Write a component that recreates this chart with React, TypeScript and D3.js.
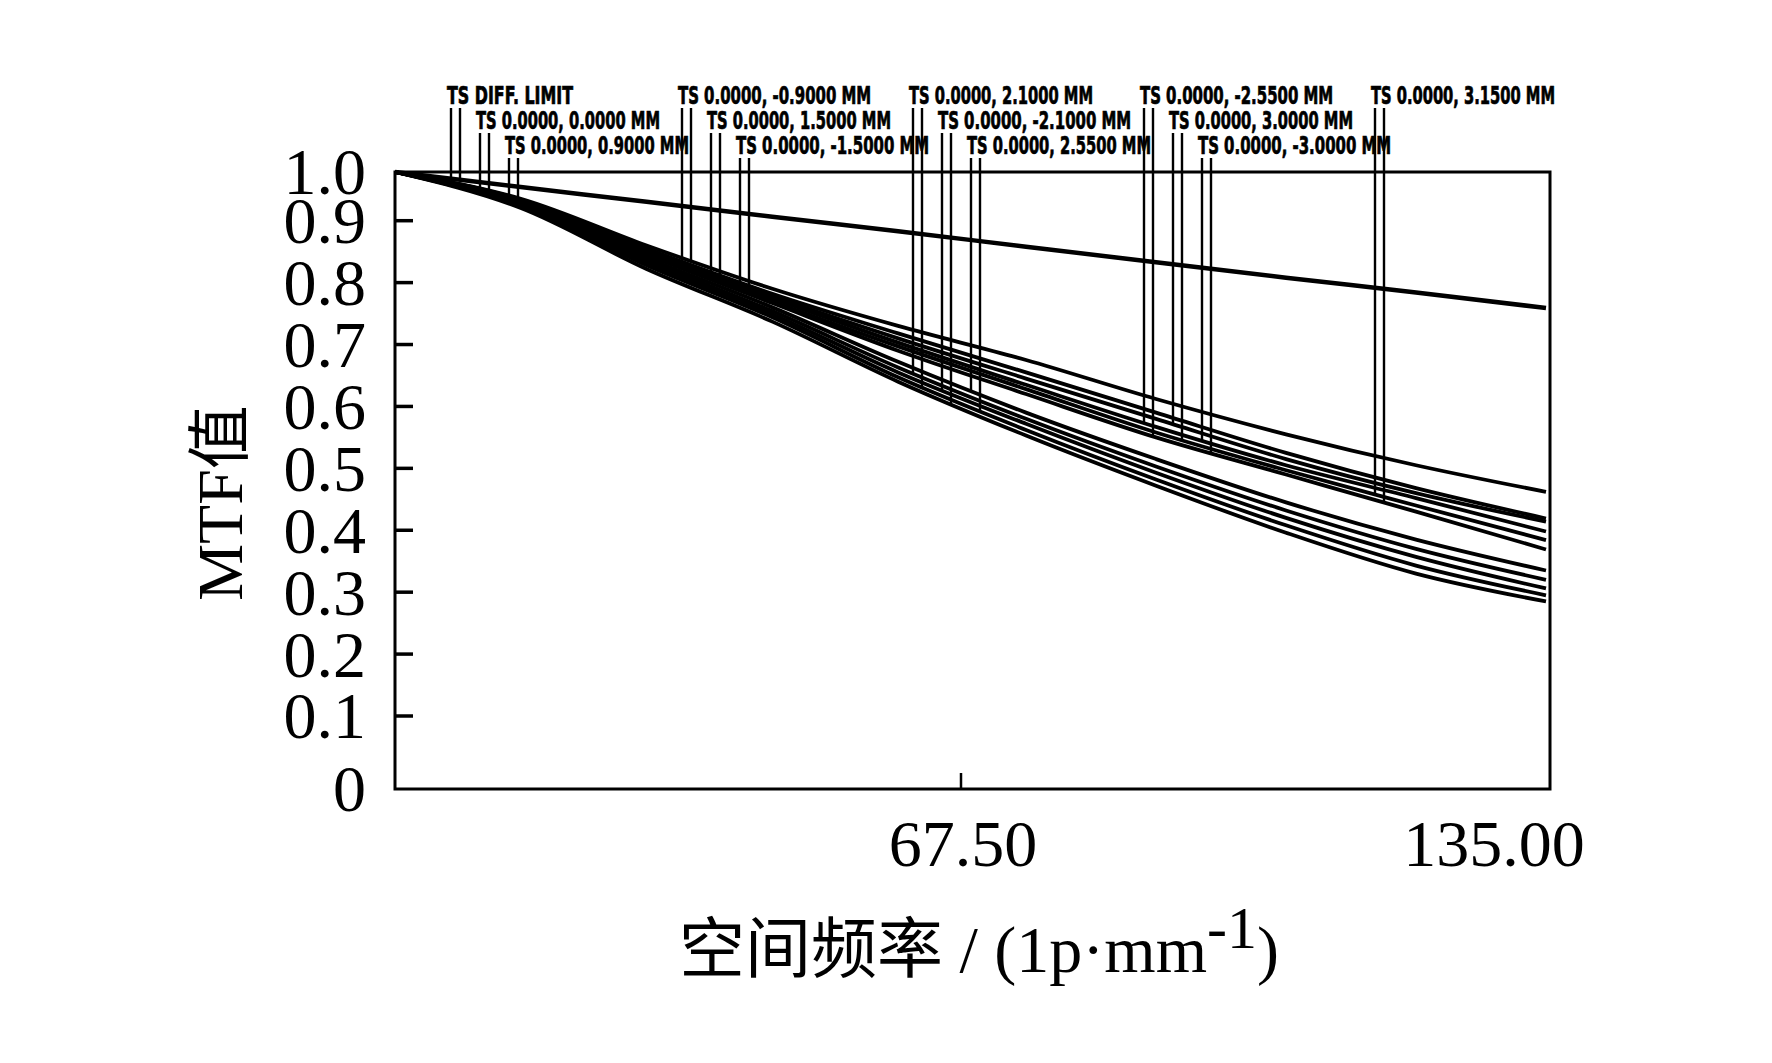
import * as d3 from 'd3';

// spatial frequency samples (lp/mm)
const FREQS = [0, 15, 30, 45, 60, 75, 90, 105, 120, 135];

// MTF curves
const DIFF_LIMIT = [1.0, 0.969, 0.939, 0.908, 0.883, 0.858, 0.833, 0.808, 0.784, 0.759];
const U1 = [1.0, 0.945, 0.86, 0.79, 0.73, 0.675, 0.612, 0.555, 0.505, 0.462];
const U2 = [1.0, 0.943, 0.855, 0.782, 0.718, 0.655, 0.59, 0.525, 0.468, 0.419];
const U3 = [1.0, 0.942, 0.852, 0.778, 0.71, 0.645, 0.58, 0.515, 0.46, 0.414];
const U4 = [1.0, 0.94, 0.85, 0.775, 0.703, 0.635, 0.567, 0.505, 0.452, 0.398];
const U5 = [1.0, 0.938, 0.847, 0.77, 0.697, 0.628, 0.558, 0.497, 0.44, 0.384];
const U6 = [1.0, 0.937, 0.845, 0.767, 0.69, 0.62, 0.55, 0.49, 0.43, 0.369];
const L1 = [1.0, 0.935, 0.84, 0.76, 0.672, 0.59, 0.515, 0.445, 0.385, 0.335];
const L2 = [1.0, 0.933, 0.836, 0.754, 0.663, 0.58, 0.503, 0.432, 0.37, 0.32];
const L3 = [1.0, 0.931, 0.832, 0.749, 0.655, 0.572, 0.493, 0.42, 0.357, 0.306];
const L4 = [1.0, 0.929, 0.828, 0.744, 0.647, 0.562, 0.482, 0.408, 0.343, 0.295];
const L5 = [1.0, 0.926, 0.822, 0.737, 0.64, 0.553, 0.472, 0.396, 0.33, 0.285];

const FIELD_LABELS = [
  'TS DIFF. LIMIT',
  'TS 0.0000, 0.0000 MM',
  'TS 0.0000, 0.9000 MM',
  'TS 0.0000, -0.9000 MM',
  'TS 0.0000, 1.5000 MM',
  'TS 0.0000, -1.5000 MM',
  'TS 0.0000, 2.1000 MM',
  'TS 0.0000, -2.1000 MM',
  'TS 0.0000, 2.5500 MM',
  'TS 0.0000, -2.5500 MM',
  'TS 0.0000, 3.0000 MM',
  'TS 0.0000, -3.0000 MM',
  'TS 0.0000, 3.1500 MM',
];
const TANGENTIAL = [DIFF_LIMIT, U1, U1, U2, U2, U3, L2, L3, L1, U4, U3, U4, U5];
const SAGITTAL = [DIFF_LIMIT, U1, U2, U1, U3, U2, L4, L5, L4, U6, U5, U6, U6];

const Y_TICKS = [0, 0.1, 0.2, 0.3, 0.4, 0.5, 0.6, 0.7, 0.8, 0.9, 1.0];
const Y_TICK_LABELS = ['0', '0.1', '0.2', '0.3', '0.4', '0.5', '0.6', '0.7', '0.8', '0.9', '1.0'];
const X_TICKS = [67.5, 135];
const X_TICK_LABELS = ['67.50', '135.00'];

const W = 1772;
const H = 1063;
const LEFT = 395;
const RIGHT = 1550;
const TOP = 172;
const BOTTOM = 789;

const serif = '"Liberation Serif", "Times New Roman", "Noto Sans CJK SC", serif';
const zemaxFont = '"DejaVu Sans Condensed", "DejaVu Sans", sans-serif';

// the relabelled axes are not quite linear: 0 and 1.0 sit on the frame
const x = d3.scaleLinear().domain([0, 67.5, 135]).range([LEFT, 961, 1546]);
const y = d3.scaleLinear().domain([0, 0.1, 0.9, 1]).range([BOTTOM, 716, 220.7, TOP]);

const line = d3
  .line<number>()
  .x((_, i) => x(FREQS[i]))
  .y(d => y(d))
  .curve(d3.curveMonotoneX);

const valueAt = (curve: number[], f: number) =>
  d3.scaleLinear().domain(FREQS).range(curve)(f);

const App = () => {
  const curves: number[][] = [];
  TANGENTIAL.forEach((c, i) => {
    curves.push(c);
    if (SAGITTAL[i] !== c) curves.push(SAGITTAL[i]);
  });
  const unique = Array.from(new Set(curves));

  return (
    <div style={{ position: 'fixed', left: 0, top: 0 }}>
      <svg width={W} height={H} style={{ display: 'block', background: '#fff' }}>
        {/* curves */}
        <g fill="none" stroke="#000" strokeLinejoin="round">
          {unique.map((c, i) => (
            <path key={i} d={line(c) ?? ''} strokeWidth={c === DIFF_LIMIT ? 4.5 : 3.8} />
          ))}
        </g>

        {/* field labels with their marker lines */}
        <g>
          {FIELD_LABELS.map((label, i) => {
            const g = Math.floor(i / 3);
            const r = i % 3;
            const lx = 447 + g * 231 + r * 29;
            const base = 104 + r * 25;
            const tx = lx + 4;
            const sx = lx + 13;
            const len = i === 0 ? 126 : label.length * 9.2;
            return (
              <g key={label}>
                <text
                  x={lx}
                  y={base}
                  fontFamily={zemaxFont}
                  fontWeight="bold"
                  fontSize={24}
                  stroke="#000"
                  strokeWidth={0.7}
                  textLength={len}
                  lengthAdjust="spacingAndGlyphs"
                >
                  {label}
                </text>
                <line x1={tx} x2={tx} y1={base + 4} y2={y(valueAt(TANGENTIAL[i], x.invert(tx)))} stroke="#000" strokeWidth={2.4} />
                <line x1={sx} x2={sx} y1={base + 4} y2={y(valueAt(SAGITTAL[i], x.invert(sx)))} stroke="#000" strokeWidth={2.4} />
              </g>
            );
          })}
        </g>

        {/* frame */}
        <rect x={LEFT} y={TOP} width={RIGHT - LEFT} height={BOTTOM - TOP} fill="none" stroke="#000" strokeWidth={3} />

        {/* y axis ticks and labels */}
        <g fontFamily={serif} fontSize={66} textAnchor="end">
          {Y_TICKS.map((t, i) => (
            <g key={t}>
              {t > 0 && t < 1 && (
                <line x1={LEFT} x2={LEFT + 18} y1={y(t)} y2={y(t)} stroke="#000" strokeWidth={3.5} />
              )}
              <text x={366} y={y(t)} dy="0.34em">
                {Y_TICK_LABELS[i]}
              </text>
            </g>
          ))}
        </g>

        {/* x axis ticks and labels */}
        <g fontFamily={serif} fontSize={66} textAnchor="middle">
          {X_TICKS.map((t, i) => (
            <g key={t}>
              {t < 135 && <line x1={x(t)} x2={x(t)} y1={BOTTOM} y2={BOTTOM - 16} stroke="#000" strokeWidth={2.5} />}
              <text x={t < 135 ? x(t) + 2 : x(t) - 52} y={866}>
                {X_TICK_LABELS[i]}
              </text>
            </g>
          ))}
        </g>

        {/* axis titles */}
        <text x={979} y={972} textAnchor="middle" fontFamily={serif} fontSize={66}>
          空间频率 / (1p·mm
          <tspan dy={-24} fontSize={60}>-1</tspan>
          <tspan dy={24}>)</tspan>
        </text>
        <text
          transform="translate(242,503) rotate(-90)"
          textAnchor="middle"
          fontFamily={serif}
          fontSize={64}
        >
          MTF值
        </text>
      </svg>
    </div>
  );
};

export default App;
